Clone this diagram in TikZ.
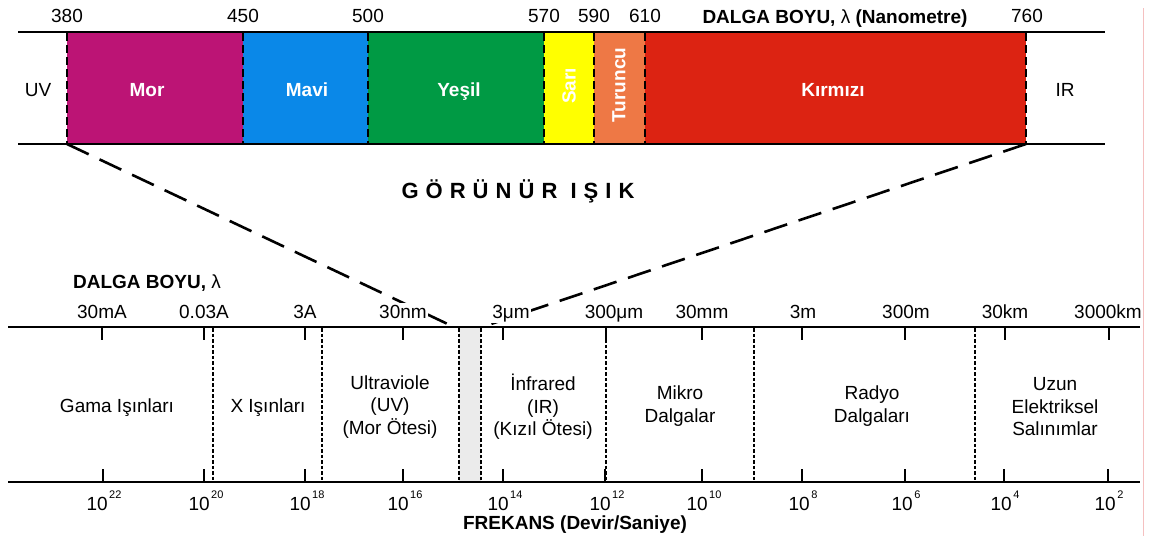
\documentclass[tikz,border=0pt]{standalone}
\usepackage{fontspec}
\setmainfont{Liberation Sans}
\definecolor{mor}{HTML}{BC1475}
\definecolor{mavi}{HTML}{0A88E8}
\definecolor{yesil}{HTML}{009A44}
\definecolor{sari}{HTML}{FFFF00}
\definecolor{turuncu}{HTML}{EE7845}
\definecolor{kirmizi}{HTML}{DC2312}
\definecolor{gri}{HTML}{EBEBEB}
\definecolor{pembe}{HTML}{F5C0C0}
\newcommand{\us}[1]{\hspace{1.5pt}\raisebox{11.5pt}{\fontsize{11}{11}\selectfont #1}}

\begin{document}
\begin{tikzpicture}[x=1pt,y=-1pt]
\tikzset{yazi/.style={font=\fontsize{19}{22.5}\selectfont, inner sep=1pt},
  renk/.style={font=\fontsize{19}{22.5}\selectfont\bfseries, text=white, inner sep=1pt},
  baslik/.style={font=\fontsize{19}{22.5}\selectfont\bfseries, inner sep=1pt},
  dalga/.style={yazi, fill=white, inner sep=1.5pt, anchor=base},
  bolge/.style={yazi, align=center},
  cizgi/.style={line width=2pt},
  eksen/.style={line width=2.6pt},
  tik/.style={line width=2.4pt},
  sinir/.style={line width=2.8pt, dash pattern=on 8pt off 4pt},
  ayrac/.style={line width=2.6pt, dash pattern=on 3.5pt off 2pt},
  yakin/.style={line width=2.6pt, dash pattern=on 24pt off 12pt}}
\useasboundingbox (0,0) rectangle (1150,542);

% gorunur isik bandi
\fill[mor] (67,32) rectangle (243,144);
\fill[mavi] (243,32) rectangle (368,144);
\fill[yesil] (368,32) rectangle (544,144);
\fill[sari] (544,32) rectangle (594,144);
\fill[turuncu] (594,32) rectangle (645,144);
\fill[kirmizi] (645,32) rectangle (1026,144);
\draw[cizgi] (18,32) -- (1105,32) (18,144) -- (1105,144);
\draw[sinir] (67,33) -- (67,144) (243,33) -- (243,144) (368,33) -- (368,144) (544,33) -- (544,144)
  (594,33) -- (594,144) (645,33) -- (645,144) (1026,33) -- (1026,144);

\draw (67,22) node[yazi,anchor=base](n380){380};
\draw (243,22) node[yazi,anchor=base](n450){450};
\draw (368,22) node[yazi,anchor=base](n500){500};
\draw (544,22) node[yazi,anchor=base](n570){570};
\draw (594,22) node[yazi,anchor=base](n590){590};
\draw (645,22) node[yazi,anchor=base](n610){610};
\draw (1027,22) node[yazi,anchor=base](n760){760};
\draw (835,23) node[baslik,anchor=base](dbnm){DALGA BOYU, {\mdseries λ} (Nanometre)};

\draw (38,96) node[yazi,anchor=base](uv){UV};
\draw (1065,96) node[yazi,anchor=base](ir){IR};
\draw (147,96) node[renk,anchor=base](lmor){Mor};
\draw (307,96) node[renk,anchor=base](lmavi){Mavi};
\draw (459,96) node[renk,anchor=base](lyesil){Yeşil};
\draw (833,96) node[renk,anchor=base](lkirmizi){Kırmızı};
\draw (569,86) node[renk,rotate=90](lsari){Sarı};
\draw (619,85) node[renk,rotate=90](lturuncu){Turuncu};

\draw (518,198) node[baslik,anchor=base,font=\fontsize{22}{24}\selectfont\bfseries](gorunur){\addfontfeature{LetterSpace=32}GÖRÜNÜR IŞIK};

% yakinlastirma cizgileri
\coordinate (ksol) at (67,144);
\coordinate (ksag) at (1026,144);
\coordinate (gsol) at (454,327);
\coordinate (gsag) at (482,327);
\draw[yakin] (ksol) -- (gsol);
\draw[yakin] (ksag) -- (gsag);

% spektrum
\fill[gri] (459,327) rectangle (481,482);
\draw[ayrac] (213,328) -- (213,482) (322,328) -- (322,482) (459,328) -- (459,482) (481,328) -- (481,482)
  (606,328) -- (606,482) (754,328) -- (754,482) (975,328) -- (975,482);
\draw[eksen] (8,327) -- (1140,327) (8,482) -- (1140,482);
\draw[tik] (102,327) -- (102,340) (204,327) -- (204,340) (305,327) -- (305,340) (403,327) -- (403,340)
  (503,327) -- (503,340) (606,327) -- (606,340) (702,327) -- (702,340) (802,327) -- (802,340)
  (905,327) -- (905,340) (1005,327) -- (1005,340) (1109,327) -- (1109,340);
\draw[tik] (103,482) -- (103,469) (204,482) -- (204,469) (305,482) -- (305,469) (403,482) -- (403,469)
  (503,482) -- (503,469) (605,482) -- (605,469) (702,482) -- (702,469) (802,482) -- (802,469)
  (905,482) -- (905,469) (1004,482) -- (1004,469) (1108,482) -- (1108,469);

\draw (147,288) node[baslik,anchor=base](dblambda){DALGA BOYU, {\mdseries λ}};
\draw (102,318) node[dalga](d1){30mA};
\draw (204,318) node[dalga](d2){0.03A};
\draw (305,318) node[dalga](d3){3A};
\draw (403,318) node[dalga](d4){30nm};
\draw (511,318) node[dalga](d5){3μm};
\draw (614,318) node[dalga](d6){300μm};
\draw (702,318) node[dalga](d7){30mm};
\draw (803,318) node[dalga](d8){3m};
\draw (906,318) node[dalga](d9){300m};
\draw (1005,318) node[dalga](d10){30km};
\draw (1108,318) node[dalga](d11){3000km};

\draw (117,412) node[yazi,anchor=base](gama){Gama Işınları};
\draw (268,412) node[yazi,anchor=base](xray){X Işınları};
\draw (390,407) node[bolge](uvb){Ultraviole\\(UV)\\(Mor Ötesi)};
\draw (543,407) node[bolge](irb){İnfrared\\(IR)\\(Kızıl Ötesi)};
\draw (680,406) node[bolge](mikro){Mikro\\Dalgalar};
\draw (872,406) node[bolge](radyo){Radyo\\Dalgaları};
\draw (1055,407) node[bolge](uzun){Uzun\\Elektriksel\\Salınımlar};

\draw (104,510) node[yazi,anchor=base](f22){10\us{22}};
\draw (206,510) node[yazi,anchor=base](f20){10\us{20}};
\draw (307,510) node[yazi,anchor=base](f18){10\us{18}};
\draw (405,510) node[yazi,anchor=base](f16){10\us{16}};
\draw (505,510) node[yazi,anchor=base](f14){10\us{14}};
\draw (607,510) node[yazi,anchor=base](f12){10\us{12}};
\draw (704,510) node[yazi,anchor=base](f10){10\us{10}};
\draw (803,510) node[yazi,anchor=base](f8){10\us{8}};
\draw (906,510) node[yazi,anchor=base](f6){10\us{6}};
\draw (1005,510) node[yazi,anchor=base](f4){10\us{4}};
\draw (1109,510) node[yazi,anchor=base](f2){10\us{2}};
\draw (575,529) node[baslik,anchor=base](frekans){FREKANS (Devir/Saniye)};

\draw[pembe, line width=0.8pt] (1143,8) -- (1143,536);
\end{tikzpicture}
\end{document}
